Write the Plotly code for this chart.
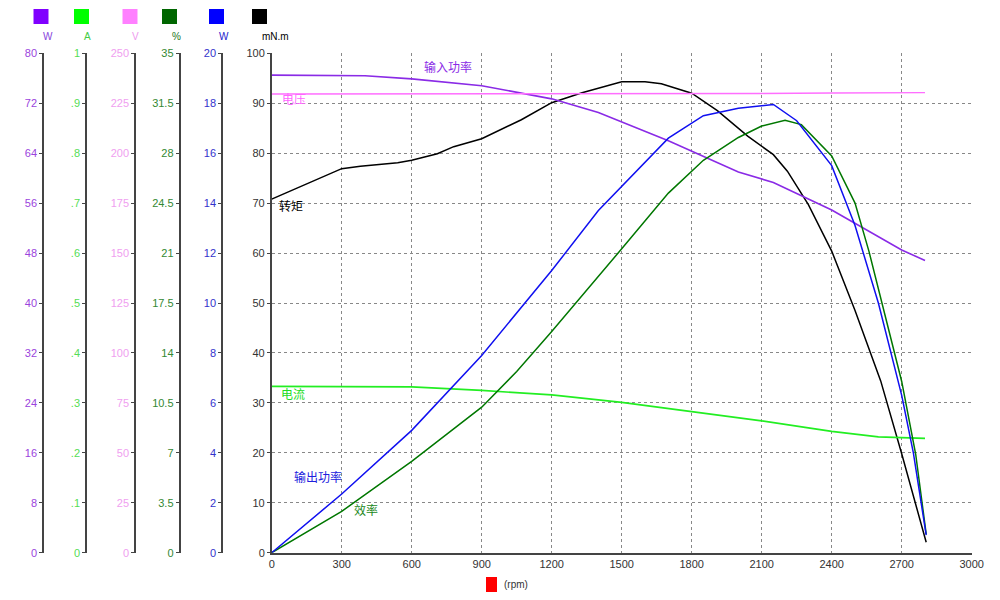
import plotly.graph_objects as go

# motor test curves
power_in_rpm = [0, 300, 400, 600, 900, 1200, 1400, 1700, 2000, 2150, 2400, 2700, 2800]
power_in_w = [76.5, 76.5, 76.4, 75.9, 74.8, 72.7, 70.5, 66.0, 61.0, 59.3, 54.9, 48.5, 46.8]

voltage_rpm = [0, 600, 1200, 1800, 2100, 2400, 2800]
voltage_v = [229.6, 229.6, 229.6, 229.7, 229.9, 230.1, 230.3]

current_rpm = [0, 300, 600, 900, 1200, 1500, 1800, 2100, 2300, 2400, 2600, 2800]
current_a = [0.333, 0.333, 0.332, 0.325, 0.316, 0.301, 0.283, 0.264, 0.250, 0.243, 0.232, 0.229]

eff_rpm = [0, 300, 600, 900, 1050, 1200, 1500, 1700, 1850, 2000, 2100, 2200, 2270, 2400, 2500, 2560, 2700, 2760, 2805]
eff_pct = [0, 2.9, 6.4, 10.2, 12.7, 15.5, 21.3, 25.2, 27.5, 29.1, 29.9, 30.3, 30.0, 27.8, 24.5, 21.1, 12.0, 6.9, 1.3]

power_out_rpm = [0, 300, 600, 900, 1200, 1400, 1700, 1850, 2000, 2150, 2250, 2400, 2500, 2600, 2700, 2750, 2805]
power_out_w = [0, 2.35, 4.9, 7.9, 11.3, 13.7, 16.6, 17.5, 17.8, 17.95, 17.3, 15.5, 13.1, 10.0, 6.3, 4.0, 0.7]

torque_rpm = [0, 300, 380, 540, 600, 710, 780, 900, 1070, 1200, 1330, 1500, 1600, 1670, 1800, 1910,
              2040, 2150, 2210, 2300, 2400, 2500, 2610, 2700, 2805]
torque_mnm = [70.8, 76.9, 77.4, 78.1, 78.6, 79.9, 81.3, 82.9, 86.7, 90.1, 92.1, 94.3, 94.3, 93.9, 92.0, 88.5,
              83.4, 79.7, 76.4, 69.7, 60.4, 48.5, 34.4, 19.8, 2.1]

x_ticks = list(range(0, 3001, 300))

# left axes: unit, range max, tick values, tick text, line colour, label colour, position (paper)
axes = [
    ("W", 80, list(range(0, 81, 8)), [str(v) for v in range(0, 81, 8)], "#8000ff", "#9a44dd", 0.043),
    ("A", 1, [i / 10 for i in range(11)], ["0", ".1", ".2", ".3", ".4", ".5", ".6", ".7", ".8", ".9", "1"],
     "#00ff00", "#55dd55", 0.086),
    ("V", 250, list(range(0, 251, 25)), [str(v) for v in range(0, 251, 25)], "#ff80ff", "#f0a0f0", 0.135),
    ("%", 35, [i * 3.5 for i in range(11)], ["0", "3.5", "7", "10.5", "14", "17.5", "21", "24.5", "28", "31.5", "35"],
     "#006600", "#338833", 0.1795),
    ("W", 20, list(range(0, 21, 2)), [str(v) for v in range(0, 21, 2)], "#0000ff", "#3333cc", 0.222),
]

tick_font = "Liberation Sans Narrow, Liberation Sans, Arial"
cjk = "Noto Sans CJK SC"
ydom = [0.0788, 0.9112]

fig = go.Figure()

fig.add_trace(go.Scatter(x=power_in_rpm, y=power_in_w, yaxis="y2", mode="lines",
                         line=dict(color="#8a2be6", width=1.6), name="输入功率"))
fig.add_trace(go.Scatter(x=voltage_rpm, y=voltage_v, yaxis="y4", mode="lines",
                         line=dict(color="#ff6eff", width=1.4), name="电压"))
fig.add_trace(go.Scatter(x=current_rpm, y=current_a, yaxis="y3", mode="lines",
                         line=dict(color="#22ee22", width=1.6), name="电流"))
fig.add_trace(go.Scatter(x=eff_rpm, y=eff_pct, yaxis="y5", mode="lines",
                         line=dict(color="#007700", width=1.5), name="效率"))
fig.add_trace(go.Scatter(x=power_out_rpm, y=power_out_w, yaxis="y6", mode="lines",
                         line=dict(color="#1010f0", width=1.5), name="输出功率"))
fig.add_trace(go.Scatter(x=torque_rpm, y=torque_mnm, yaxis="y", mode="lines",
                         line=dict(color="#000000", width=1.5), name="转矩"))

layout = dict(
    autosize=True,
    margin=dict(l=0, r=0, t=0, b=0, autoexpand=False),
    paper_bgcolor="white",
    plot_bgcolor="white",
    showlegend=False,
    xaxis=dict(domain=[0.2717, 0.9717], range=[0, 3000], tickvals=x_ticks, automargin=False,
               showgrid=True, gridcolor="#888888", griddash="dot", gridwidth=1,
               showline=True, linecolor="#444444", linewidth=1.5, zeroline=False,
               ticks="", tickfont=dict(family=tick_font, size=11, color="#333333")),
    yaxis=dict(domain=ydom, range=[0, 100], dtick=10, side="left", automargin=False,
               showgrid=True, gridcolor="#888888", griddash="dot", gridwidth=1,
               showline=True, linecolor="#444444", linewidth=1.5, zeroline=False,
               ticks="outside", ticklen=3, tickcolor="#444444",
               tickfont=dict(family=tick_font, size=11, color="#333333")),
)
for i, (unit, top, tv, tt, col, lab_col, pos) in enumerate(axes):
    layout["yaxis%d" % (i + 2)] = dict(
        range=[0, top], tickvals=tv, ticktext=tt, overlaying="y", anchor="free", position=pos,
        side="left", showgrid=False, zeroline=False, showline=True, linecolor="#444444", linewidth=1.5,
        ticks="outside", ticklen=3, tickcolor="#444444", automargin=False,
        tickfont=dict(family=tick_font, size=11, color=lab_col))
fig.update_layout(**layout)

# colour keys and unit labels above the axes
keys = [("W", "#8000ff", "#8844dd", 0.041), ("A", "#00ff00", "#44cc44", 0.0815),
        ("V", "#ff80ff", "#ee99ee", 0.130), ("%", "#006600", "#227722", 0.1695),
        ("W", "#0000ff", "#2222cc", 0.2165), ("mN.m", "#000000", "#000000", 0.2595)]
for unit, sq, lab, cx in keys:
    fig.add_shape(type="rect", xref="paper", yref="paper", x0=cx - 0.0075, x1=cx + 0.0075,
                  y0=1 - 24 / 600, y1=1 - 9 / 600, fillcolor=sq, line=dict(width=0))
    fig.add_annotation(text=unit, xref="paper", yref="paper", x=cx, y=1 - 29 / 600, showarrow=False,
                       font=dict(family=tick_font, size=10, color=lab))

# x-axis key
fig.add_shape(type="rect", xref="paper", yref="paper", x0=0.486, x1=0.497,
              y0=1 - 592 / 600, y1=1 - 577 / 600, fillcolor="#ff0000", line=dict(width=0))
fig.add_annotation(text="(rpm)", xref="paper", yref="paper", x=0.502, y=1 - 592 / 600, xanchor="left",
                   showarrow=False, font=dict(family=tick_font, size=10, color="#333333"))

# curve names
names = [("输入功率", 755, 97.3, "center", "#8a2be6"), ("电压", 35, 90.9, "left", "#ff66ff"),
         ("转矩", 23, 69.6, "left", "#000000"), ("电流", 31, 31.8, "left", "#22dd22"),
         ("输出功率", 199, 15.2, "center", "#2020dd"), ("效率", 402, 8.7, "center", "#228822")]
for txt, xv, yv, anc, col in names:
    fig.add_annotation(text=txt, x=xv, y=yv, xref="x", yref="y", xanchor=anc, showarrow=False,
                       font=dict(family=cjk, size=12, color=col))

# make the figure fill the browser window exactly, with no page margin or scroll bars
fit_window = """
var gd = document.getElementById('{plot_id}');
[document.documentElement, document.body].forEach(function (el) {
    el.style.margin = '0'; el.style.padding = '0'; el.style.overflow = 'hidden'; el.style.height = '100%';
});
gd.parentElement.style.height = '100%';
Plotly.relayout(gd, {width: window.innerWidth, height: window.innerHeight});
"""
fig.write_html("out.html", config={"displayModeBar": False}, post_script=fit_window)
